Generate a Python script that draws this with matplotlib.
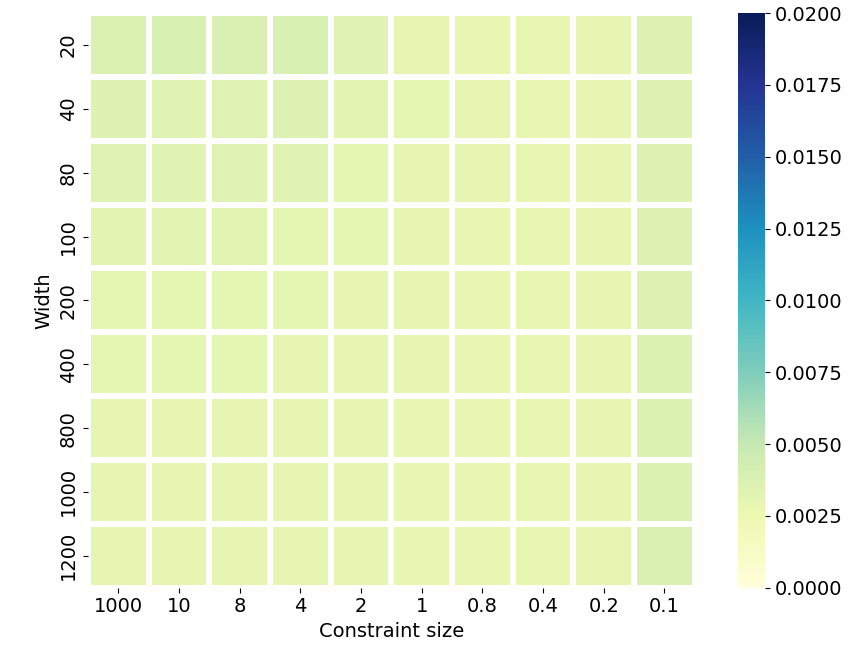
import matplotlib
matplotlib.use("Agg")
import matplotlib.pyplot as plt
import numpy as np
import seaborn as sns

constraint_sizes = ["1000", "10", "8", "4", "2", "1", "0.8", "0.4", "0.2", "0.1"]
widths = ["20", "40", "80", "100", "200", "400", "800", "1000", "1200"]

# error per (width, constraint size)
w20 = [0.0037, 0.0039, 0.0038, 0.0039, 0.0033, 0.0030, 0.0029, 0.0029, 0.0030, 0.0035]
w40 = [0.0035, 0.0034, 0.0034, 0.0036, 0.0032, 0.0031, 0.0030, 0.0029, 0.0030, 0.0035]
w80 = [0.0034, 0.0033, 0.0033, 0.0033, 0.0031, 0.0030, 0.0030, 0.0029, 0.0030, 0.0035]
w100 = [0.0032, 0.0032, 0.0032, 0.0031, 0.0031, 0.0030, 0.0029, 0.0029, 0.0030, 0.0036]
w200 = [0.0031, 0.0031, 0.0031, 0.0031, 0.0030, 0.0030, 0.0029, 0.0029, 0.0030, 0.0036]
w400 = [0.0031, 0.0031, 0.0031, 0.0030, 0.0030, 0.0030, 0.0029, 0.0029, 0.0030, 0.0037]
w800 = [0.0030, 0.0030, 0.0030, 0.0030, 0.0030, 0.0029, 0.0029, 0.0029, 0.0030, 0.0037]
w1000 = [0.0030, 0.0030, 0.0030, 0.0030, 0.0030, 0.0029, 0.0029, 0.0029, 0.0030, 0.0037]
w1200 = [0.0030, 0.0030, 0.0030, 0.0030, 0.0030, 0.0029, 0.0029, 0.0029, 0.0030, 0.0038]

data = np.array([w20, w40, w80, w100, w200, w400, w800, w1000, w1200])

plt.rcParams["font.size"] = 14

fig = plt.figure(figsize=(8.61, 6.53), dpi=100)
ax = fig.add_axes([0.102, 0.100, 0.705, 0.880])
cax = fig.add_axes([0.857, 0.100, 0.031, 0.880])

sns.heatmap(data, ax=ax, cbar_ax=cax, cmap="YlGnBu", vmin=0, vmax=0.02,
            linewidths=4, linecolor="white",
            xticklabels=constraint_sizes, yticklabels=widths)
ax.set_xlabel("Constraint size", fontsize=14)
ax.set_ylabel("Width", fontsize=14)
ax.tick_params(axis="y", labelrotation=90, labelsize=14)
ax.tick_params(axis="x", labelrotation=0, labelsize=14)
for t in ax.get_yticklabels():
    t.set_va("center")
cax.tick_params(labelsize=14)
cax.yaxis.set_major_formatter(matplotlib.ticker.FormatStrFormatter("%.4f"))

fig.savefig("out.png", dpi=100)
